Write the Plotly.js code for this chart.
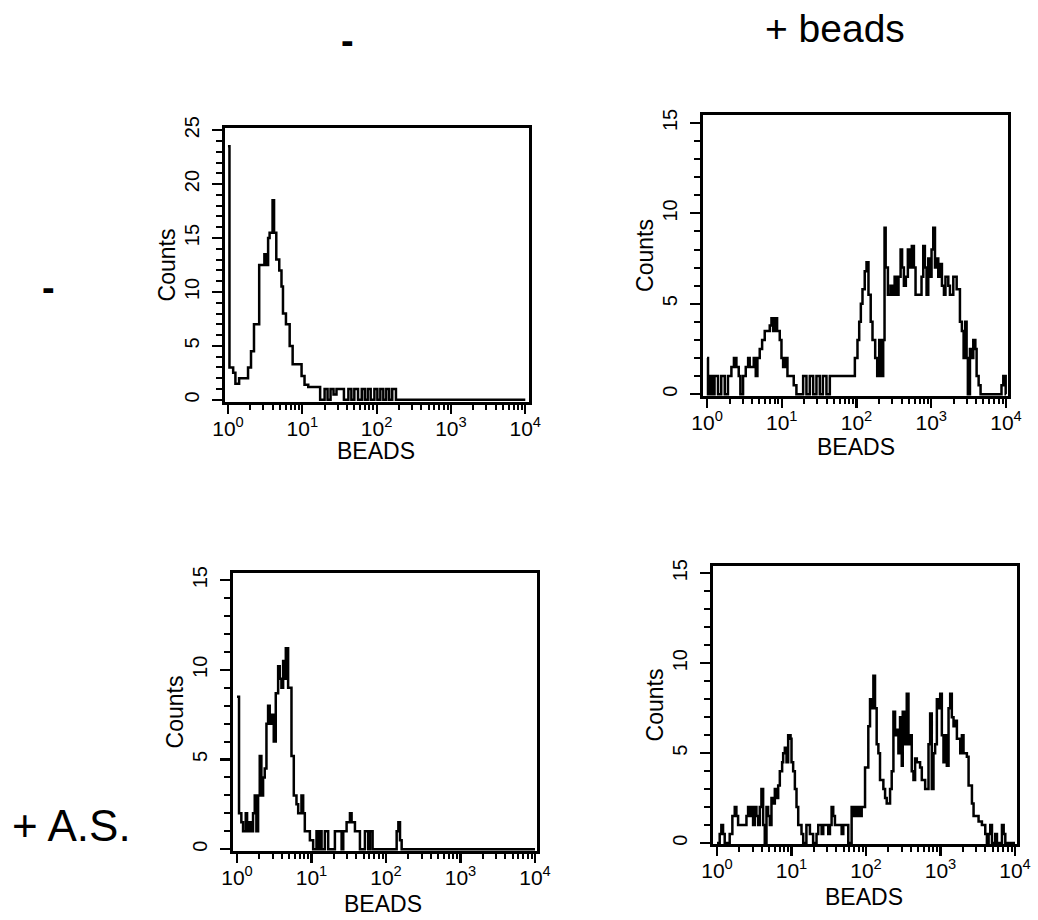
<!DOCTYPE html>
<html>
<head>
<meta charset="utf-8">
<script src="https://cdn.plot.ly/plotly-3.0.1.min.js"></script>
<style>html,body{margin:0;padding:0;background:#fff;}#chart{width:1038px;height:920px;}</style>
</head>
<body>
<div id="chart"></div>
<script>
// Fluorescence positions in decades (log10 of BEADS), step starts; counts per channel
const p1Dec = [0.00,0.02,0.07,0.10,0.15,0.27,0.31,0.35,0.42,0.49,0.52,0.54,0.56,0.60,0.62,0.65,0.69,0.72,0.74,0.78,0.83,0.87,0.99,1.03,1.08,1.24,1.30,1.34,1.38,1.42,1.46,1.52,1.56,1.62,1.66,1.70,1.75,1.80,1.84,1.88,1.92,1.97,2.01,2.05,2.09,2.13,2.17,2.21,2.26,4.00];
const p1Cnt = [23.5,3,2.5,1.5,2,3,4.5,7,12.5,13.5,12.5,15,15.5,18.5,15.5,13,12,10.5,8,7,5,3.3,2.2,1.4,1.2,0,1,0,1,0.5,1,1,0,1,0,1,0,1,0,1,0,1,0,1,0,1,0,1,0,0];

const p2Dec = [0.00,0.013,0.036,0.067,0.10,0.147,0.19,0.237,0.28,0.326,0.36,0.393,0.424,0.446,0.482,0.518,0.55,0.571,0.625,0.652,0.674,0.705,0.737,0.772,0.839,0.862,0.884,0.906,0.9375,0.973,0.996,1.018,1.05,1.076,1.16,1.196,1.286,1.33,1.375,1.42,1.464,1.509,1.55,1.598,1.643,1.978,2.013,2.036,2.058,2.08,2.11,2.134,2.16,2.19,2.214,2.25,2.277,2.304,2.335,2.357,2.375,2.39,2.42,2.455,2.482,2.51,2.536,2.562,2.59,2.61,2.634,2.66,2.687,2.714,2.74,2.768,2.79,2.87,2.893,2.915,2.9375,2.96,2.982,3.004,3.027,3.05,3.07,3.094,3.116,3.143,3.17,3.19,3.228,3.25,3.295,3.34,3.384,3.41,3.433,3.455,3.473,3.49,3.518,3.54,3.5625,3.59,3.607,3.634,3.66,3.94,3.964,3.996,4.00];
const p2Cnt = [2,0,1,0,1,0,1,0,1,1.5,2,1.5,1,0,1,1.5,2,1.5,2,1,2,2.5,3,3.5,3.8,4.2,3.5,4.2,3.5,3,2,1.5,2,1,0.5,0,1,0,1,0,1,0,1,0,1,2,3,4,5,5.8,6.8,7.3,5.5,4,3,2,1,3,1,3,9.2,7,5.5,6,5.5,6.5,5.5,6.5,8,7,6,6.5,8,7,8.2,7,5.5,6.5,8.2,7,5.5,7.5,6.5,8,9.2,7,7.5,6.5,7.2,6,5.5,6.5,6,5.5,6.5,5.8,4,3.5,2,4,2,0,2.5,2,3,2.5,1,0.5,0,0.5,1,0,0];

const p3Dec = [0.00,0.027,0.058,0.081,0.117,0.135,0.161,0.184,0.215,0.238,0.26,0.283,0.305,0.327,0.35,0.372,0.395,0.417,0.439,0.462,0.493,0.52,0.552,0.574,0.596,0.619,0.641,0.655,0.686,0.731,0.762,0.798,0.821,0.865,0.888,0.91,0.978,1.022,1.067,1.09,1.112,1.135,1.179,1.224,1.314,1.404,1.426,1.471,1.516,1.538,1.583,1.65,1.717,1.762,1.785,1.82,2.143,2.166,2.188,2.21,4.00];
const p3Cnt = [8.5,2,1.5,1,2,1,1.5,1,2,3,1,3,5.2,3,4,4.5,7,8,7,7.5,6,8.7,10.2,9.5,9,10.5,9.5,11.2,9,5.2,3,2.5,2,3,2,1,0.5,0,1,0,1,0,1,0,1,0,1,1.5,2,1.5,1,0,1,0,1,0,1,1.5,0.5,0,0];

const p4Dec = [0.00,0.036,0.058,0.081,0.103,0.17,0.206,0.238,0.26,0.283,0.395,0.417,0.44,0.462,0.484,0.507,0.529,0.552,0.574,0.596,0.619,0.641,0.664,0.686,0.709,0.731,0.753,0.776,0.798,0.821,0.843,0.874,0.888,0.91,0.933,0.955,0.987,1.0,1.022,1.045,1.067,1.09,1.134,1.157,1.2,1.247,1.29,1.336,1.359,1.404,1.426,1.493,1.516,1.538,1.56,1.583,1.673,1.695,1.762,1.807,1.83,1.852,1.874,1.897,1.919,1.942,1.987,2.031,2.054,2.076,2.099,2.121,2.143,2.166,2.188,2.233,2.256,2.278,2.323,2.345,2.368,2.39,2.413,2.435,2.457,2.48,2.493,2.525,2.547,2.57,2.592,2.614,2.637,2.659,2.682,2.726,2.749,2.794,2.839,2.861,2.883,2.906,2.928,2.951,2.973,2.996,3.018,3.04,3.063,3.085,3.108,3.13,3.152,3.175,3.197,3.22,3.265,3.287,3.309,3.354,3.377,3.422,3.444,3.511,3.556,3.601,3.623,3.646,3.668,3.691,3.735,3.758,3.825,3.848,3.87,4.00];
const p4Cnt = [0,0.5,1,0.5,0,0.5,1.5,2,1.5,1,1.5,2,1.5,2,1,2,1.5,1,2,3,1,0,2,1.5,1,2.5,2.2,3,2.5,3.2,4,4.5,5,5.3,4.5,6,5.8,4.5,4,3,2,1,0.5,0,1,0.5,0,0.5,1,0.5,1,0.5,1,2,1.5,1,0.5,1,0,2,1.5,2,1.5,2,1.5,2,4.2,6.5,8,7.5,9.3,7.5,5.5,5,3.5,3,2.5,2.2,3,4,7.3,6,6.3,5,7,4.3,7.3,5.5,8.3,5.5,6,4,3.5,4.7,4.5,4.2,3.5,3,5.5,7.2,3,5,5.5,8,7.5,8.3,6,4.5,6,4.3,7.5,8.3,7,6.5,6.8,5.8,5,6,5,4.8,3.2,2.2,1.5,1.2,1,0.5,0,0.5,1,0,0.5,0,1,0.5,0,0];

const columnHeaders = ['-', '+ beads'];
const rowHeaders = ['-', '+ A.S.'];
const xTitle = 'BEADS';
const yTitle = 'Counts';
const xTickVals = [1, 10, 100, 1000, 10000];
const xTickText = ['10<sup>0</sup>', '10<sup>1</sup>', '10<sup>2</sup>', '10<sup>3</sup>', '10<sup>4</sup>'];

// minor log ticks 2..9 in each decade
const xMinor = [];
for (let d = 0; d < 4; d++) for (let m = 2; m <= 9; m++) xMinor.push(m * Math.pow(10, d));

function W(px){return px/1038;}
function H(py){return 1-py/920;}

function mkTrace(dec, cnt, n){
  return {x: dec.map(d=>Math.pow(10,d)), y: cnt, type:'scatter', mode:'lines',
    line:{shape:'hv', color:'#000', width:2.5}, xaxis:'x'+(n===1?'':n), yaxis:'y'+(n===1?'':n),
    hoverinfo:'skip', showlegend:false};
}

const fontFam = 'Liberation Sans, Arial, Helvetica, sans-serif';
function xAx(dom, rng, anchor){
  return {domain:dom, type:'log', range:rng, anchor:anchor, tickmode:'array', tickvals:xTickVals, ticktext:xTickText,
    showline:true, linecolor:'#000', linewidth:2.8, mirror:true, ticks:'outside', ticklen:9, tickwidth:2.2, tickcolor:'#000',
    minor:{tickmode:'array', tickvals:xMinor, ticks:'outside', ticklen:5, tickwidth:2, tickcolor:'#000', showgrid:false},
    showgrid:false, zeroline:false, tickfont:{family:fontFam, size:21, color:'#000'}, ticklabelstandoff:-3,
    fixedrange:true};
}
function yAx(dom, rng, anchor, maxv){
  const minorV = []; for (let v = 0; v <= maxv; v++) if (v % 5) minorV.push(v);
  return {domain:dom, range:rng, anchor:anchor, dtick:5, tick0:0, tickangle:-90,
    showline:true, linecolor:'#000', linewidth:2.8, mirror:true, ticks:'outside', ticklen:10, tickwidth:2.2, tickcolor:'#000',
    minor:{tickmode:'array', tickvals:minorV, ticks:'outside', ticklen:6, tickwidth:2, tickcolor:'#000', showgrid:false},
    showgrid:false, zeroline:false, tickfont:{family:fontFam, size:20, color:'#000'}, ticklabelstandoff:5,
    title:{text:yTitle, font:{family:fontFam, size:23, color:'#000'}, standoff:0}, fixedrange:true};
}

const data = [mkTrace(p1Dec,p1Cnt,1), mkTrace(p2Dec,p2Cnt,2), mkTrace(p3Dec,p3Cnt,3), mkTrace(p4Dec,p4Cnt,4)];

const ann = (text, px, py, size) => ({text:text, x:W(px), y:H(py), xref:'paper', yref:'paper', xanchor:'center', yanchor:'middle',
  showarrow:false, font:{family:fontFam, size:size, color:'#000'}});

const layout = {
  width:1038, height:920, margin:{l:0,r:0,t:0,b:0}, paper_bgcolor:'#fff', plot_bgcolor:'#fff',
  showlegend:false,
  xaxis: xAx([W(225),W(529)], [-0.04,4.05], 'y'),
  yaxis: yAx([H(402),H(128)], [-0.2,25.2], 'x', 25),
  xaxis2: xAx([W(703),W(1008)], [-0.054,4.027], 'y2'),
  yaxis2: yAx([H(396),H(115)], [-0.1,15.44], 'x2', 15),
  xaxis3: xAx([W(233),W(537)], [-0.054,4.027], 'y3'),
  yaxis3: yAx([H(851),H(573)], [-0.1,15.4], 'x3', 15),
  xaxis4: xAx([W(713),W(1017)], [-0.054,4.027], 'y4'),
  yaxis4: yAx([H(844),H(566)], [-0.05,15.4], 'x4', 15),
  annotations: [
    ann('<b>'+columnHeaders[0]+'</b>', 347, 41, 38),
    ann(columnHeaders[1], 835, 28, 39),
    ann('<b>'+rowHeaders[0]+'</b>', 48, 288, 38),
    ann(rowHeaders[1], 72, 825, 44),
    ann(xTitle, 376, 451, 23),
    ann(xTitle, 856, 447, 23),
    ann(xTitle, 383, 904, 23),
    ann(xTitle, 864, 897, 23)
  ]
};

Plotly.newPlot('chart', data, layout, {staticPlot:true, displayModeBar:false});
</script>
</body>
</html>
